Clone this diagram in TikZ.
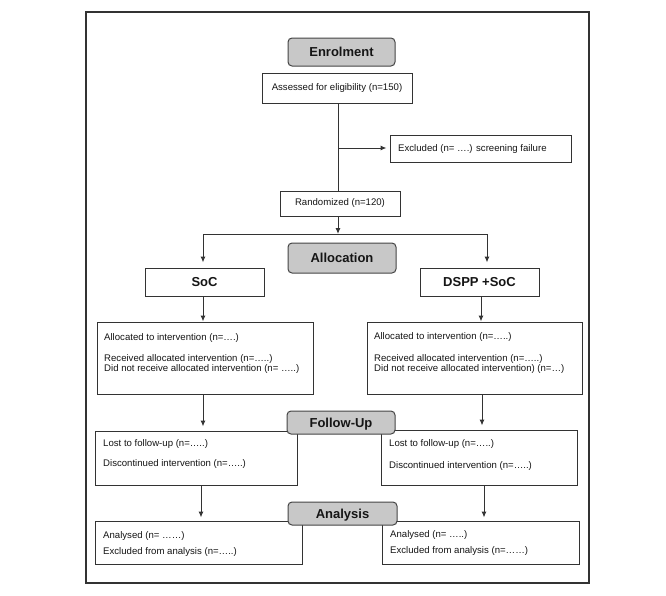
\documentclass[tikz,border=0pt]{standalone}
\usepackage{fontspec}
\setmainfont{Liberation Sans}
\usetikzlibrary{arrows.meta}
\definecolor{linec}{HTML}{333333}
\definecolor{labfill}{HTML}{C8C8C8}
\definecolor{labline}{HTML}{454545}
\definecolor{txtc}{HTML}{151515}
\tikzset{
  box/.style={draw=linec, line width=1pt, fill=white, inner sep=0pt, text=txtc,
    font=\fontsize{9.6}{11}\selectfont},
  boldbox/.style={box, font=\fontsize{13}{15}\selectfont\bfseries},
  label/.style={draw=labline, line width=1pt, fill=labfill, rounded corners=4pt, inner sep=0pt,
    text=txtc, font=\fontsize{13}{15}\selectfont\bfseries, text height=9.4pt, text depth=0pt},
  txt/.style={anchor=base west, inner sep=0pt, text=txtc, font=\fontsize{9.6}{11}\selectfont},
  conn/.style={draw=linec, line width=1pt},
  arr/.style={conn, -{Latex[length=6pt,width=5pt]}},
}
\begin{document}
\begin{tikzpicture}[x=1pt,y=-1pt]
\useasboundingbox (0,0) rectangle (666,595);
\draw[draw=linec, line width=1.3pt] (86,12) rectangle (589,583);

% column coordinates
\coordinate (colA) at (203,0);
\coordinate (colB) at (481,0);
\coordinate (colC) at (482,0);
\coordinate (colD) at (201,0);
\coordinate (colE) at (484,0);
\coordinate (colF) at (487,0);
\coordinate (colM) at (338,0);
\coordinate (splitY) at (0,234);
\coordinate (exclY) at (0,148);

% boxes
\node[box, minimum width=150pt, minimum height=30pt] (assess) at (337,88) {Assessed for eligibility (n=150)};
\node[box, minimum width=181pt, minimum height=27pt] (excl) at (480.5,148.5) {};
\node[txt] (exclT) at (398,151.5) {Excluded (n= ….) screening failure};
\node[box, minimum width=120pt, minimum height=25pt] (rand) at (340,203.5) {Randomized (n=120)};
\node[boldbox, minimum width=119pt, minimum height=28pt] (soc) at (204.5,282) {SoC};
\node[boldbox, minimum width=119pt, minimum height=28pt] (dspp) at (479.5,282) {DSPP +SoC};

\node[box, minimum width=216pt, minimum height=72pt] (allocL) at (205,358) {};
\node[txt] (aL1) at (104,340.5) {Allocated to intervention (n=….)};
\node[txt] (aL2) at (104,361) {Received allocated intervention (n=…..)};
\node[txt] (aL3) at (104,371.5) {Did not receive allocated intervention (n= …..)};

\node[box, minimum width=215pt, minimum height=72pt] (allocR) at (474.5,358) {};
\node[txt] (aR1) at (374,339) {Allocated to intervention (n=…..)};
\node[txt] (aR2) at (374,361) {Received allocated intervention (n=…..)};
\node[txt] (aR3) at (374,371) {Did not receive allocated intervention) (n=…)};

\node[box, minimum width=202pt, minimum height=54pt] (followL) at (196,458) {};
\node[txt] (fL1) at (103,446.5) {Lost to follow-up (n=…..)};
\node[txt] (fL2) at (103,466.5) {Discontinued intervention (n=…..)};

\node[box, minimum width=196pt, minimum height=55pt] (followR) at (479,457.5) {};
\node[txt] (fR1) at (389,446.5) {Lost to follow-up (n=…..)};
\node[txt] (fR2) at (389,468.5) {Discontinued intervention (n=…..)};

\node[box, minimum width=207pt, minimum height=43pt] (anaL) at (198.5,542.5) {};
\node[txt] (nL1) at (103,538.5) {Analysed (n= ……)};
\node[txt] (nL2) at (103,554.5) {Excluded from analysis (n=…..)};

\node[box, minimum width=197pt, minimum height=43pt] (anaR) at (480.5,542.5) {};
\node[txt] (nR1) at (390,537.5) {Analysed (n= …..)};
\node[txt] (nR2) at (390,553.5) {Excluded from analysis (n=……)};

% phase labels
\node[label, minimum width=107pt, minimum height=28pt] (enrol) at (341.5,52) {Enrolment};
\node[label, minimum width=108pt, minimum height=30pt] (alloc) at (342,258) {Allocation};
\node[label, minimum width=108pt, minimum height=23pt] (follow) at (341,422.5) {Follow-Up};
\node[label, minimum width=109pt, minimum height=23pt] (analysis) at (342.5,513.5) {Analysis};

% connectors
\draw[conn] (assess.south -| colM) -- (rand.north -| colM);
\draw[arr, shorten >=3pt] (colM |- exclY) -- (excl.west |- exclY);
\draw[arr] (rand.south -| colM) -- (colM |- splitY);
\draw[conn] (colA |- splitY) -- (colF |- splitY);
\draw[arr, shorten >=5pt] (colA |- splitY) -- (soc.north -| colA);
\draw[arr, shorten >=5pt] (colF |- splitY) -- (dspp.north -| colF);
\draw[arr] (soc.south -| colA) -- (allocL.north -| colA);
\draw[arr] (dspp.south -| colB) -- (allocR.north -| colB);
\draw[arr, shorten >=4pt] (allocL.south -| colA) -- (followL.north -| colA);
\draw[arr, shorten >=4pt] (allocR.south -| colC) -- (followR.north -| colC);
\draw[arr, shorten >=3pt] (followL.south -| colD) -- (anaL.north -| colD);
\draw[arr, shorten >=3pt] (followR.south -| colE) -- (anaR.north -| colE);
\end{tikzpicture}
\end{document}
